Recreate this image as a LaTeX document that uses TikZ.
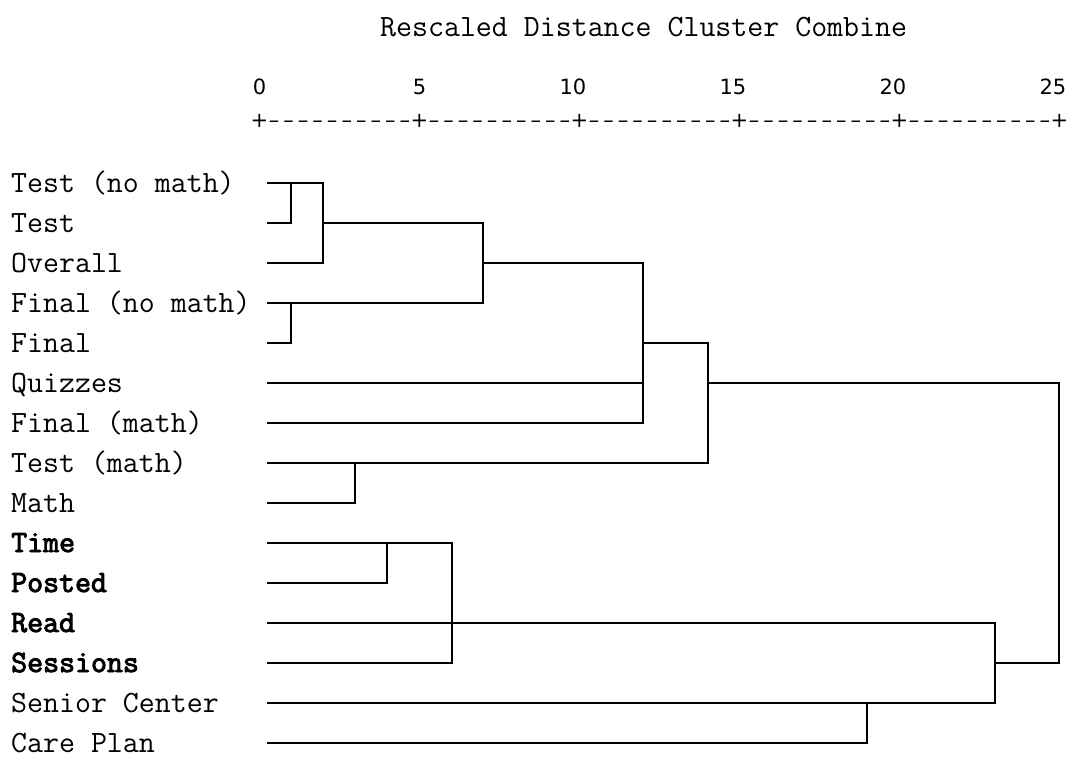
\documentclass[tikz,border=0pt]{standalone}
\usepackage{fontspec}
\newfontfamily\labelfont{Latin Modern Mono}
\newfontfamily\labelboldfont[FakeBold=3]{Latin Modern Mono}
\newfontfamily\axisfont{DejaVu Sans}
\begin{document}
\begin{tikzpicture}[x=1bp,y=-1bp,
  leaf/.style={anchor=base west,inner sep=0pt,font=\labelfont\fontsize{31bp}{34bp}\selectfont},
  boldleaf/.style={anchor=base west,inner sep=0pt,font=\labelboldfont\fontsize{31bp}{34bp}\selectfont},
  ticklabel/.style={anchor=base east,inner sep=0pt,font=\axisfont\fontsize{21bp}{24bp}\selectfont},
  rulechar/.style={anchor=base,inner sep=0pt,font=\axisfont\fontsize{21bp}{24bp}\selectfont},
  branch/.style={line width=1.8bp,line cap=rect,line join=miter}]
\useasboundingbox (0,0) rectangle (1077,762);

% title
\node[leaf] (title) at (380,37) {Rescaled Distance Cluster Combine};

% distance scale
\foreach \k/\v in {0/0,1/5,2/10,3/15,4/20,5/25}{
  \pgfmathsetmacro{\tx}{259.5+160*\k}
  \node[ticklabel] (num\k) at (\tx+7,95) {\v};
  \node[rulechar] (plus\k) at (\tx,127) {+};
}
\foreach \k in {0,...,4}{
  \foreach \j in {1,...,10}{
    \pgfmathsetmacro{\dx}{259.5+160*\k+160/11*\j}
    \node[rulechar] (dash\k-\j) at (\dx,127) {\char"2013};
  }
}

% case labels
\node[leaf] (n1) at (11,192) {Test (no math)};
\node[leaf] (n2) at (11,232) {Test};
\node[leaf] (n3) at (11,272) {Overall};
\node[leaf] (n4) at (11,312) {Final (no math)};
\node[leaf] (n5) at (11,352) {Final};
\node[leaf] (n6) at (11,392) {Quizzes};
\node[leaf] (n7) at (11,432) {Final (math)};
\node[leaf] (n8) at (11,472) {Test (math)};
\node[leaf] (n9) at (11,512) {Math};
\node[boldleaf] (n10) at (11,552) {Time};
\node[boldleaf] (n11) at (11,592) {Posted};
\node[boldleaf] (n12) at (11,632) {Read};
\node[boldleaf] (n13) at (11,672) {Sessions};
\node[leaf] (n14) at (11,712) {Senior Center};
\node[leaf] (n15) at (11,752) {Care Plan};

% leaf line starts
\foreach \i/\r in {1/183,2/223,3/263,4/303,5/343,6/383,7/423,8/463,9/503,
                   10/543,11/583,12/623,13/663,14/703,15/743}{
  \coordinate (s\i) at (268,\r);
}

% merge points
\coordinate (jA) at (291,183);
\coordinate (jB) at (323,263);
\coordinate (jC) at (291,303);
\coordinate (jD) at (483,223);
\coordinate (jE) at (643,423);
\coordinate (jF) at (355,463);
\coordinate (jG) at (708,343);
\coordinate (jH) at (387,543);
\coordinate (jI) at (452,663);
\coordinate (jJ) at (867,703);
\coordinate (jK) at (995,703);
\coordinate (jR) at (1059,663);

% dendrogram
\draw[branch] (s2) -| (jA);
\draw[branch] (s1) -| (jB);
\draw[branch] (s3) -- (jB);
\draw[branch] (s5) -| (jC);
\draw[branch] (s4) -| (jD);
\draw[branch] (jB |- jD) -- (jD);
\draw[branch] (jD |- s3) -| (jE);
\draw[branch] (s6) -- (jE |- s6);
\draw[branch] (s7) -- (jE);
\draw[branch] (s9) -| (jF);
\draw[branch] (s8) -| (jG);
\draw[branch] (jE |- s5) -- (jG);
\draw[branch] (jG |- s6) -| (jR);
\draw[branch] (s11) -| (jH);
\draw[branch] (s10) -| (jI);
\draw[branch] (s13) -- (jI);
\draw[branch] (s12) -| (jK);
\draw[branch] (s15) -| (jJ);
\draw[branch] (s14) -- (jK);
\draw[branch] (jK |- s13) -- (jR);
\end{tikzpicture}
\end{document}
